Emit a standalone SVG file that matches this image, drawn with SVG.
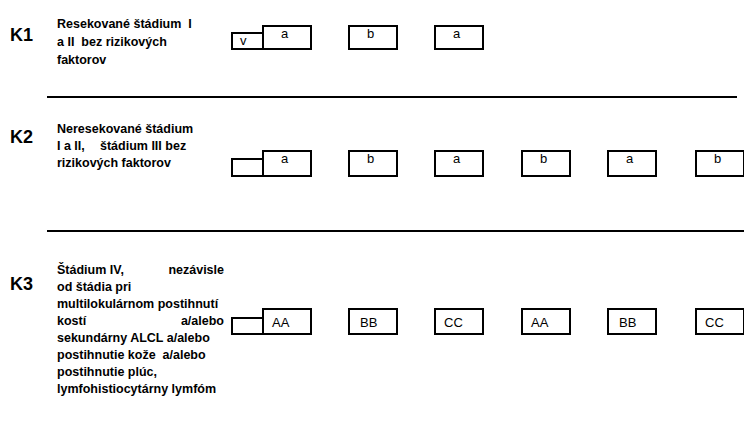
<svg xmlns="http://www.w3.org/2000/svg" width="744" height="425" viewBox="0 0 744 425">
<style>
.k{font-family:"Liberation Sans",Arial,sans-serif;font-weight:bold;font-size:18px;fill:#000}
.d{font-family:"Liberation Sans",Arial,sans-serif;font-weight:bold;font-size:12.5px;fill:#000;white-space:pre}
.b{fill:#fff;stroke:#000;stroke-width:2}
.t{font-family:"Liberation Sans",Arial,sans-serif;font-size:13px;fill:#000}
.sep{stroke:#000;stroke-width:2}
</style>
<rect width="744" height="425" fill="#fff"/>
<g id="separators">
<line class="sep" x1="47" y1="97" x2="737" y2="97"/>
<line class="sep" x1="47" y1="231" x2="744" y2="231"/>
</g>
<g id="row-k1">
<text class="k" x="10" y="41">K1</text>
<text class="d" x="57" y="28" xml:space="preserve">Resekované štádium  I</text>
<text class="d" x="57" y="46" xml:space="preserve">a II  bez rizikových</text>
<text class="d" x="57" y="64">faktorov</text>
</g>
<g id="k1-v"><rect class="b" x="232" y="33" width="31" height="16"/><text class="t" x="240" y="45">v</text></g>
<g id="k1-a1"><rect class="b" x="263" y="26" width="48" height="23"/><text class="t" x="281" y="38">a</text></g>
<g id="k1-b"><rect class="b" x="349" y="26" width="48" height="23"/><text class="t" x="367" y="38">b</text></g>
<g id="k1-a2"><rect class="b" x="435" y="26" width="48" height="23"/><text class="t" x="453" y="38">a</text></g>
<g id="row-k2">
<text class="k" x="10" y="143">K2</text>
<text class="d" x="57" y="133">Neresekované štádium</text>
<text class="d" x="57" y="150">I a II,</text>
<text class="d" x="100" y="150">štádium III bez</text>
<text class="d" x="57" y="167">rizikových faktorov</text>
</g>
<g id="k2-e"><rect class="b" x="232" y="159" width="31" height="17"/></g>
<g id="k2-a1"><rect class="b" x="263" y="151" width="48" height="25"/><text class="t" x="281" y="163">a</text></g>
<g id="k2-b1"><rect class="b" x="349" y="151" width="48" height="25"/><text class="t" x="367" y="163">b</text></g>
<g id="k2-a2"><rect class="b" x="435" y="151" width="48" height="25"/><text class="t" x="453" y="163">a</text></g>
<g id="k2-b2"><rect class="b" x="522" y="151" width="48" height="25"/><text class="t" x="540" y="163">b</text></g>
<g id="k2-a3"><rect class="b" x="608" y="151" width="48" height="25"/><text class="t" x="626" y="163">a</text></g>
<g id="k2-b3"><rect class="b" x="696" y="151" width="48" height="25"/><text class="t" x="714" y="163">b</text></g>
<g id="row-k3">
<text class="k" x="10" y="290">K3</text>
<text class="d" x="57" y="274">Štádium IV,</text>
<text class="d" x="224" y="274" text-anchor="end">nezávisle</text>
<text class="d" x="57" y="291">od štádia pri</text>
<text class="d" x="57" y="308">multilokulárnom postihnutí</text>
<text class="d" x="57" y="325">kostí</text>
<text class="d" x="224" y="325" text-anchor="end">a/alebo</text>
<text class="d" x="57" y="342">sekundárny ALCL a/alebo</text>
<text class="d" x="57" y="359" xml:space="preserve">postihnutie kože  a/alebo</text>
<text class="d" x="57" y="376">postihnutie plúc,</text>
<text class="d" x="57" y="393">lymfohistiocytárny lymfóm</text>
</g>
<g id="k3-e"><rect class="b" x="232" y="318" width="31" height="16"/></g>
<g id="k3-aa1"><rect class="b" x="263" y="309" width="48" height="25"/><text class="t" x="272" y="327">AA</text></g>
<g id="k3-bb1"><rect class="b" x="349" y="309" width="48" height="25"/><text class="t" x="360" y="327">BB</text></g>
<g id="k3-cc1"><rect class="b" x="435" y="309" width="48" height="25"/><text class="t" x="444" y="327">CC</text></g>
<g id="k3-aa2"><rect class="b" x="522" y="309" width="48" height="25"/><text class="t" x="531" y="327">AA</text></g>
<g id="k3-bb2"><rect class="b" x="608" y="309" width="48" height="25"/><text class="t" x="619" y="327">BB</text></g>
<g id="k3-cc2"><rect class="b" x="696" y="309" width="48" height="25"/><text class="t" x="705" y="327">CC</text></g>
</svg>
